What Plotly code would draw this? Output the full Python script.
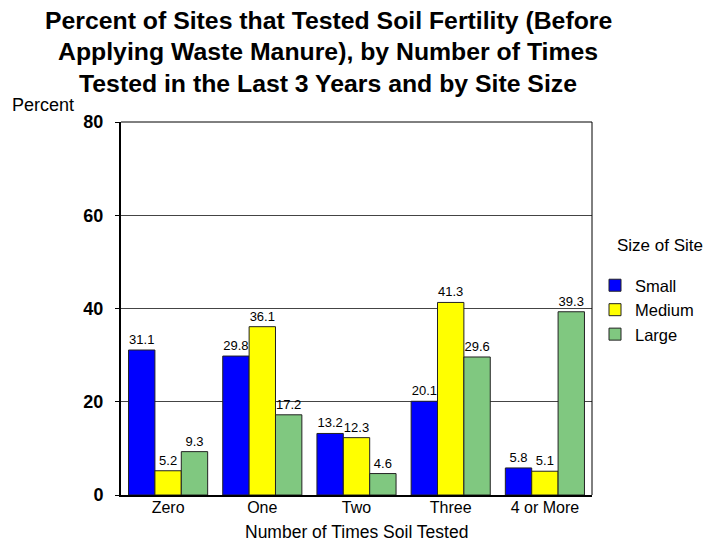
import plotly.graph_objects as go

categories = ["Zero", "One", "Two", "Three", "4 or More"]
small = [31.1, 29.8, 13.2, 20.1, 5.8]
medium = [5.2, 36.1, 12.3, 41.3, 5.1]
large = [9.3, 17.2, 4.6, 29.6, 39.3]
series_names = ["Small", "Medium", "Large"]
colors = ["#0000ff", "#ffff00", "#80c880"]
y_ticks = [0, 20, 40, 60, 80]
title_lines = [
    "Percent of Sites that Tested Soil Fertility (Before",
    "Applying Waste Manure), by Number of Times",
    "Tested in the Last 3 Years and by Site Size",
]

FONT = "Liberation Sans, Arial, sans-serif"
W, H = 703, 534
L, R, T, B = 113, 119, 114, 47
PH = H - T - B
PW = W - L - R


def py(page_y):
    fy = page_y - 8
    return 1 - (fy - T) / PH


def px(page_x):
    fx = page_x - 8
    return (fx - L) / PW


fig = go.Figure()
for name, vals, col in zip(series_names, [small, medium, large], colors):
    fig.add_trace(go.Bar(
        x=categories, y=vals, name=name,
        marker=dict(color=col, line=dict(color="#222222", width=1)),
        text=[f"{v:.1f}" for v in vals], textposition="outside",
        textfont=dict(size=13, color="#000000", family=FONT),
        cliponaxis=False,
    ))

fig.update_layout(
    width=W, height=H,
    margin=dict(l=L, r=R, t=T, b=B, autoexpand=False),
    plot_bgcolor="white", paper_bgcolor="white",
    barmode="group", bargap=0.16, bargroupgap=0,
    font=dict(family=FONT, color="#000000"),
    showlegend=True,
    legend=dict(
        x=px(595), xanchor="left", y=py(268), yanchor="top",
        font=dict(size=16.5), tracegroupgap=0,
    ),
    uniformtext=dict(mode=False),
)
fig.update_xaxes(
    showline=True, linecolor="#000000", linewidth=2, mirror=False,
    ticks="", tickfont=dict(size=16), ticklabelstandoff=-3,
)
fig.update_yaxes(
    range=[0, 80], tickvals=y_ticks, showline=True, linecolor="#000000", linewidth=2,
    showgrid=True, gridcolor="#444444", gridwidth=1,
    ticks="outside", ticklen=4, tickcolor="#000000", ticklabelstandoff=8,
    tickfont=dict(size=18, weight="bold"), zeroline=False,
)
fig.add_shape(type="line", xref="paper", yref="paper", x0=0, x1=1, y0=1, y1=1, line=dict(color="#000000", width=1))
fig.add_shape(type="line", xref="paper", yref="paper", x0=1, x1=1, y0=0, y1=1, line=dict(color="#000000", width=1))

for line, yc in zip(title_lines, [20, 51.7, 83.3]):
    fig.add_annotation(text=line, xref="paper", yref="paper", x=px(328), y=py(yc),
                       xanchor="center", yanchor="middle", showarrow=False,
                       font=dict(size=24.8, weight="bold", family=FONT))

fig.add_annotation(text="Number of Times Soil Tested", xref="paper", yref="paper", x=0.5, y=py(532),
                   xanchor="center", yanchor="middle", showarrow=False, font=dict(size=17.5))
fig.add_annotation(text="Percent", xref="paper", yref="paper", x=px(10), y=py(105),
                   xanchor="left", yanchor="middle", showarrow=False, font=dict(size=18))
fig.add_annotation(text="Size of Site", xref="paper", yref="paper", x=px(615), y=py(245),
                   xanchor="left", yanchor="middle", showarrow=False, font=dict(size=17))

fig.write_html("out.html")
